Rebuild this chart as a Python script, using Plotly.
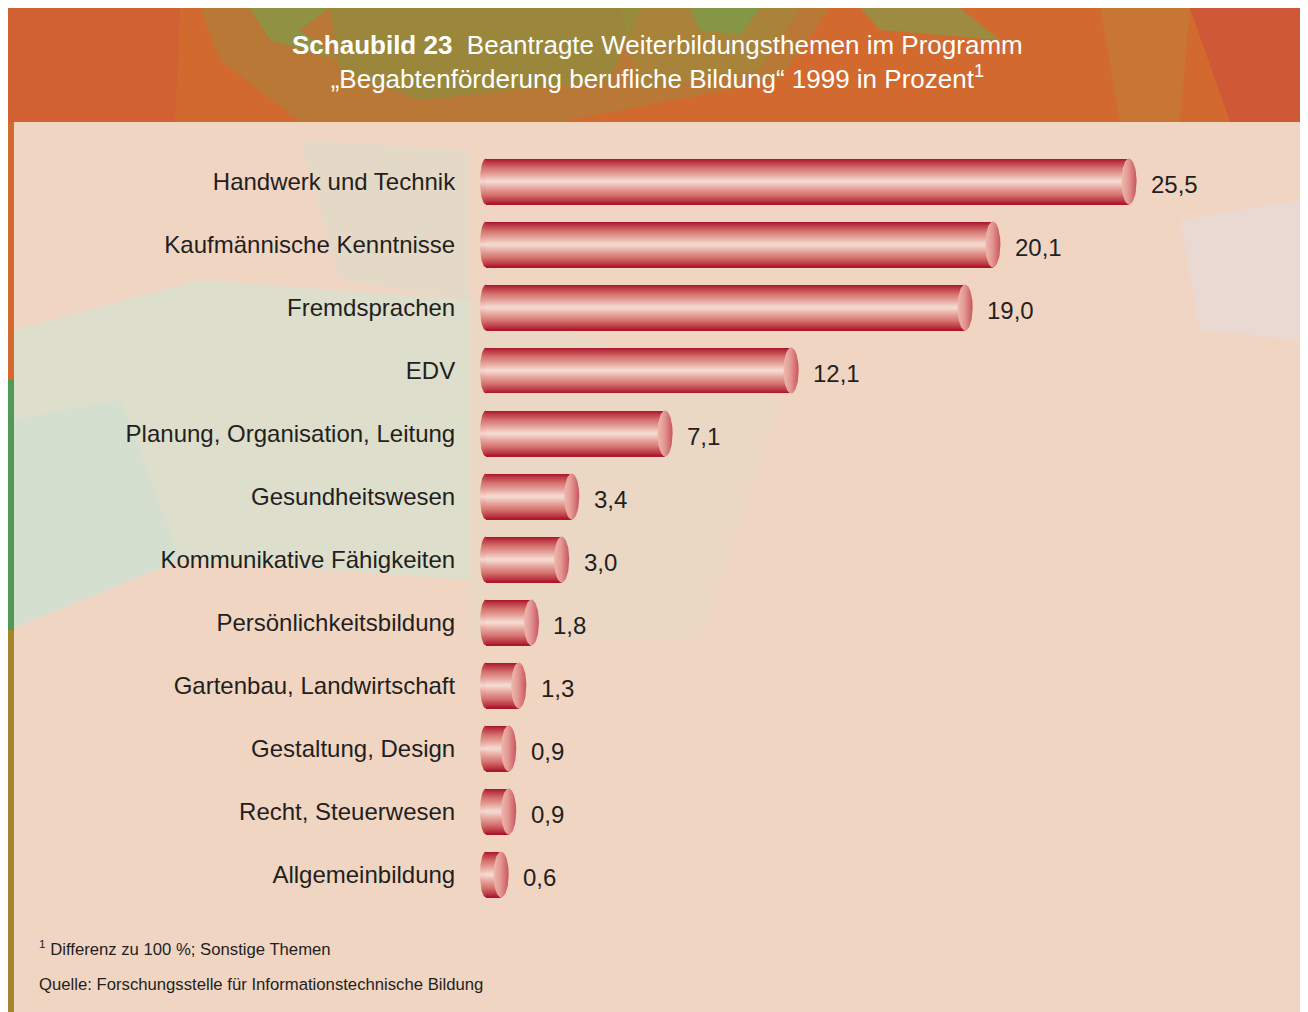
import numpy as np
import plotly.graph_objects as go

# ---------------- data ----------------
categories = [
    "Handwerk und Technik",
    "Kaufmännische Kenntnisse",
    "Fremdsprachen",
    "EDV",
    "Planung, Organisation, Leitung",
    "Gesundheitswesen",
    "Kommunikative Fähigkeiten",
    "Persönlichkeitsbildung",
    "Gartenbau, Landwirtschaft",
    "Gestaltung, Design",
    "Recht, Steuerwesen",
    "Allgemeinbildung",
]
values = [25.5, 20.1, 19.0, 12.1, 7.1, 3.4, 3.0, 1.8, 1.3, 0.9, 0.9, 0.6]
value_labels = [f"{v:.1f}".replace(".", ",") for v in values]

title_text = ("<b>Schaubild 23</b>  Beantragte Weiterbildungsthemen im Programm<br>"
              "„Begabtenförderung berufliche Bildung“ 1999 in Prozent<sup>1</sup>")
footnote_text = "<sup>1</sup> Differenz zu 100 %; Sonstige Themen"
source_text = "Quelle: Forschungsstelle für Informationstechnische Bildung"

# ---------------- layout geometry ----------------
OFF = 8                              # page body margin
FIG_W, FIG_H = 1300, 1004
L, R, T, B = 466, 8, 142, 106
PW, PH = FIG_W - L - R, FIG_H - T - B
SCALE = 25.216                       # px per percent
x_lo = -12 / SCALE
x_hi = x_lo + PW / SCALE
n = len(categories)
ypos = list(range(n))

FONT = "Liberation Sans, Arial, sans-serif"
TXT = "#231f20"

BAR_W = 0.73
HALF = BAR_W / 2
CAP_A = 0.30
LCAP_A = 0.24


def px2x(px):          # screen pixel -> paper x
    return (px - OFF - L) / PW


def py2y(py):          # screen pixel -> paper y
    return 1 - (py - OFF - T) / PH


def hexrgb(h):
    h = h.lstrip("#")
    return np.array([int(h[i:i + 2], 16) for i in (0, 2, 4)], float)


profile = [(0.0, "#ab1a2c"), (0.12, "#bc3744"), (0.4, "#d4706d"),
           (0.75, "#e8a9a1"), (1.0, "#f4d8ce")]


def prof_color(t):
    for (t0, c0), (t1, c1) in zip(profile[:-1], profile[1:]):
        if t <= t1:
            f = (t - t0) / (t1 - t0) if t1 > t0 else 0
            c = hexrgb(c0) * (1 - f) + hexrgb(c1) * f
            return "rgb(%d,%d,%d)" % tuple(c.round())
    return profile[-1][1]


fig = go.Figure()

# ---------------- cylinder bodies: stacked overlay bars ----------------
NL = 22
for k in range(NL):
    t = k / (NL - 1)
    w = BAR_W * (1 - k / NL)
    fig.add_trace(go.Bar(
        x=values, y=ypos, orientation="h", base=0,
        width=w, marker=dict(color=prof_color(t), line=dict(width=0)),
        hoverinfo="skip", showlegend=False,
    ))

vscale = [[float(p), prof_color(1 - abs(2 * p - 1))] for p in np.linspace(0, 1, 21)]

th_left = np.linspace(np.pi / 2, 3 * np.pi / 2, 40)
th_full = np.linspace(0, 2 * np.pi, 80)
for i, v in enumerate(values):
    fig.add_trace(go.Scatter(
        x=list(LCAP_A * np.cos(th_left)), y=list(i - HALF * np.sin(th_left)),
        mode="lines", line=dict(width=0), fill="toself",
        fillgradient=dict(type="vertical", colorscale=vscale),
        hoverinfo="skip", showlegend=False,
    ))
    fig.add_trace(go.Scatter(
        x=list(v + CAP_A * np.cos(th_full)), y=list(i + HALF * np.sin(th_full)),
        mode="lines", line=dict(width=0), fill="toself",
        fillgradient=dict(type="horizontal",
                          colorscale=[[0, "#efb9b0"], [0.45, "#e39893"], [1, "#c9545e"]]),
        hoverinfo="skip", showlegend=False,
    ))

annotations = []
for i, (v, lab) in enumerate(zip(values, value_labels)):
    annotations.append(dict(x=v, y=i, xref="x", yref="y", text=lab, showarrow=False,
                            xanchor="left", yanchor="middle", xshift=20, yshift=-3,
                            font=dict(family=FONT, size=24, color=TXT)))

annotations += [
    dict(text=title_text, xref="paper", yref="paper", x=px2x(657), y=py2y(62),
         xanchor="center", yanchor="middle", showarrow=False, align="center",
         font=dict(family=FONT, size=26, color="white")),
    dict(text=footnote_text, xref="paper", yref="paper", x=px2x(37), y=py2y(948),
         xanchor="left", yanchor="middle", showarrow=False,
         font=dict(family=FONT, size=16.7, color=TXT)),
    dict(text=source_text, xref="paper", yref="paper", x=px2x(37), y=py2y(984),
         xanchor="left", yanchor="middle", showarrow=False,
         font=dict(family=FONT, size=16.7, color=TXT)),
]

# ---------------- background decoration ----------------
shapes = []


def rect(x0, y0, x1, y1, color, opacity=1.0):
    shapes.append(dict(type="rect", xref="paper", yref="paper", layer="below",
                       x0=px2x(x0), x1=px2x(x1), y0=py2y(y0), y1=py2y(y1),
                       fillcolor=color, opacity=opacity, line=dict(width=0)))


def poly(pts, color, opacity=1.0):
    path = "M " + " L ".join(f"{px2x(a):.5f},{py2y(b):.5f}" for a, b in pts) + " Z"
    shapes.append(dict(type="path", xref="paper", yref="paper", layer="below",
                       path=path, fillcolor=color, opacity=opacity, line=dict(width=0)))


# header
rect(7, 8, 1308, 1012, "#d2692f")
poly([(7, 8), (180, 8), (175, 122), (7, 122)], "#d0573a", 0.45)
poly([(200, 8), (830, 8), (780, 80), (560, 122), (300, 122), (220, 60)], "#a4853a", 0.55)
poly([(330, 8), (640, 8), (610, 80), (420, 100), (340, 70)], "#86913f", 0.6)
poly([(250, 8), (330, 8), (300, 30), (340, 60), (270, 40)], "#74a24c", 0.6)
poly([(620, 8), (800, 8), (760, 70), (640, 90)], "#95903f", 0.45)
poly([(690, 8), (760, 8), (740, 35), (700, 30)], "#6ea34f", 0.6)
poly([(860, 8), (960, 8), (1000, 40), (880, 30)], "#78a14d", 0.6)
poly([(1100, 8), (1190, 8), (1180, 122), (1120, 122)], "#b78a3c", 0.4)
poly([(1190, 8), (1308, 8), (1308, 122), (1230, 122)], "#cd4f3c", 0.6)
# side strips
rect(7, 380, 14, 630, "#4f9a55")
rect(7, 630, 14, 1012, "#a4862f")
rect(1300, 122, 1308, 440, "#c8553b")

# pale panel
rect(14, 122, 1300, 1012, "#f1d5c3")
poly([(14, 330), (200, 280), (470, 300), (470, 580), (180, 560), (14, 628)], "#d6e0cd", 0.75)
poly([(14, 420), (120, 400), (180, 560), (14, 628)], "#d0e0d2", 0.6)
poly([(300, 140), (470, 150), (470, 300), (340, 280)], "#dcdcc8", 0.6)
poly([(470, 300), (780, 400), (700, 640), (470, 640)], "#e2dcc6", 0.4)
poly([(1180, 220), (1300, 200), (1300, 340), (1200, 330)], "#e6dbdc", 0.6)

# ---------------- layout ----------------
fig.update_layout(
    width=FIG_W, height=FIG_H,
    margin=dict(l=L, r=R, t=T, b=B),
    paper_bgcolor="white", plot_bgcolor="rgba(0,0,0,0)",
    barmode="overlay", bargap=0,
    showlegend=False,
    shapes=shapes,
    annotations=annotations,
    xaxis=dict(range=[x_lo, x_hi], visible=False, fixedrange=True),
    yaxis=dict(range=[n - 0.5, -0.5], tickmode="array", tickvals=ypos,
               ticktext=categories, showgrid=False, zeroline=False,
               showline=False, ticks="outside", ticklen=13,
               tickcolor="rgba(0,0,0,0)",
               tickfont=dict(family=FONT, size=24, color=TXT), fixedrange=True),
)

fig.write_html("out.html")
